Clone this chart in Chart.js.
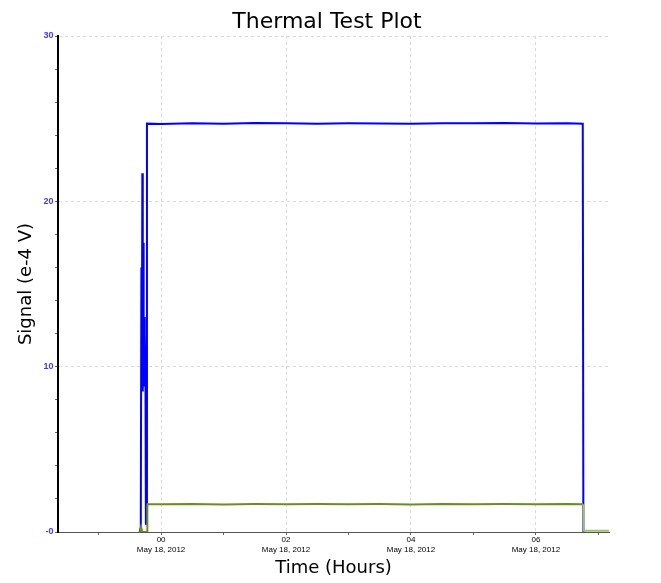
<!DOCTYPE html>
<html>
<head>
<meta charset="utf-8">
<script src="https://cdn.jsdelivr.net/npm/chart.js@4.4.1/dist/chart.umd.min.js"></script>
<style>
  html, body { margin: 0; padding: 0; background: #fff; }
</style>
</head>
<body>
<canvas id="myChart" width="661" height="583"></canvas>
<script>
// time in hours from 00:00 May 18, 2012 ; signal in e-4 V
const blueTime = [-0.34, -0.325, -0.315, -0.308, -0.300, -0.293, -0.286, -0.279, -0.272, -0.265, -0.258, -0.250, -0.243, -0.232, -0.226,
  0.0, 0.5, 1.0, 1.5, 2.0, 2.5, 3.0, 3.5, 4.0, 4.5, 5.0, 5.5, 6.0, 6.5, 6.75, 6.76];
const blueSignal = [0, 0.3, 16, 9, 21.7, 8.5, 17.5, 9.5, 13, 8.8, 12, 9.5, 0.5, 0.5, 24.7,
  24.68, 24.72, 24.70, 24.74, 24.73, 24.70, 24.72, 24.71, 24.70, 24.73, 24.72, 24.74, 24.71, 24.73, 24.70, 0];

const greenTime = [-0.36, -0.335, -0.32, -0.30, -0.225, -0.22,
  0.0, 0.5, 1.0, 1.5, 2.0, 2.5, 3.0, 3.5, 4.0, 4.5, 5.0, 5.5, 6.0, 6.5, 6.76, 6.765, 7.17];
const greenSignal = [0, 0, 0.3, 0, 0, 1.68,
  1.68, 1.70, 1.67, 1.69, 1.68, 1.70, 1.68, 1.69, 1.67, 1.70, 1.68, 1.69, 1.68, 1.70, 1.68, 0.08, 0.08];

const hourTicks = [0, 2, 4, 6];
const hourLabels = ["00", "02", "04", "06"];
const dateLabel = "May 18, 2012";
const yLabelTicks = [0, 10, 20, 30];
const yLabels = ["-0", "10", "20", "30"];

const toPoints = (xs, ys) => xs.map((x, i) => ({x: x, y: ys[i]}));

const ctx = document.getElementById("myChart");

new Chart(ctx, {
  type: "line",
  data: {
    datasets: [
      {
        label: "Signal A",
        data: toPoints(blueTime, blueSignal),
        borderColor: "#0000ff",
        borderWidth: 2,
        pointRadius: 0,
        tension: 0,
        order: 1
      },
      {
        label: "Signal B",
        data: toPoints(greenTime, greenSignal),
        borderColor: "#6b8e23",
        borderWidth: 2,
        pointRadius: 0,
        tension: 0,
        order: 0,
        segment: {
          borderColor: c => c.p0.parsed.x >= 6.76 ? "#a3bf6a" : undefined
        }
      }
    ]
  },
  options: {
    responsive: false,
    animation: false,
    devicePixelRatio: 1,
    layout: { padding: { left: 0, right: 7, top: 0, bottom: 0 } },
    plugins: {
      legend: { display: false },
      tooltip: { enabled: false },
      title: {
        display: true,
        text: "Thermal Test Plot",
        color: "#000",
        font: { family: "DejaVu Sans", size: 22, weight: "normal" },
        padding: { top: 9, bottom: 0.6 }
      }
    },
    scales: {
      x: {
        type: "linear",
        min: -1.65,
        max: 7.17,
        afterFit: s => { s.height = 51; },
        ticks: {
          stepSize: 1,
          includeBounds: false,
          autoSkip: false,
          maxRotation: 0,
          padding: 0,
          color: "#000",
          font: { family: "Liberation Sans", size: 8 },
          callback: v => {
            const i = hourTicks.indexOf(v);
            return i >= 0 ? [hourLabels[i], dateLabel] : "";
          }
        },
        grid: {
          color: c => hourTicks.includes(c.tick && c.tick.value) ? "#dadada" : "rgba(0,0,0,0)",
          tickColor: "#666",
          tickLength: 3
        },
        border: { color: "#555", width: 1, dash: [3, 3] },
        title: {
          display: true,
          text: "Time (Hours)",
          color: "#000",
          font: { family: "DejaVu Sans", size: 18 },
          padding: { top: 0, bottom: 3.5 }
        }
      },
      y: {
        min: 0,
        max: 30,
        afterFit: s => { s.width = 58; },
        ticks: {
          stepSize: 2,
          autoSkip: false,
          padding: 1.5,
          color: "#3a3aff",
          font: { family: "Liberation Sans", size: 9, weight: "bold" },
          callback: v => {
            const i = yLabelTicks.indexOf(v);
            return i >= 0 ? yLabels[i] : "";
          }
        },
        grid: {
          color: c => yLabelTicks.includes(c.tick && c.tick.value) && c.tick.value > 0 ? "#dadada" : "rgba(0,0,0,0)",
          tickColor: "#666",
          tickLength: 3
        },
        border: { color: "#000", width: 2, dash: [3, 3] },
        title: {
          display: true,
          text: "Signal (e-4 V)",
          color: "#000",
          font: { family: "DejaVu Sans", size: 18 },
          padding: { top: 16, bottom: 0 }
        }
      },
      yRight: {
        position: "right",
        display: true,
        afterFit: s => { s.width = 45; },
        ticks: { display: false },
        grid: { display: false },
        border: { display: false }
      }
    }
  }
});
</script>
</body>
</html>
